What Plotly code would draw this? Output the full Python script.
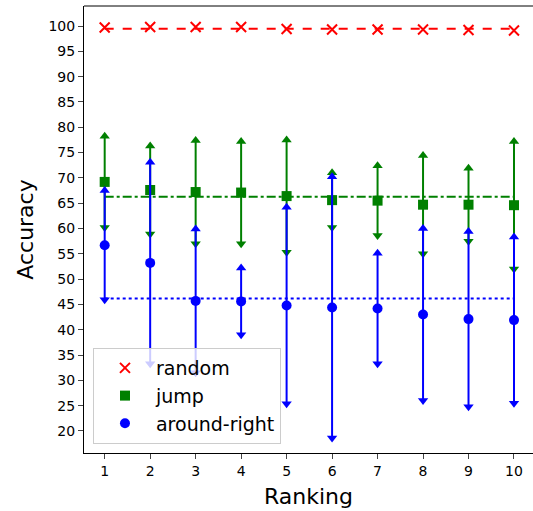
import numpy as np
import plotly.graph_objects as go

ranks = [1, 2, 3, 4, 5, 6, 7, 8, 9, 10]
x_ticks = [1, 2, 3, 4, 5, 6, 7, 8, 9, 10]
y_ticks = [20, 25, 30, 35, 40, 45, 50, 55, 60, 65, 70, 75, 80, 85, 90, 95, 100]

random_acc = [99.7, 99.8, 99.8, 99.8, 99.4, 99.3, 99.3, 99.3, 99.2, 99.1]
jump_acc = [69.2, 67.6, 67.2, 67.1, 66.4, 65.6, 65.5, 64.7, 64.7, 64.6]
jump_std = [9.0, 8.7, 10.2, 10.1, 11.1, 5.4, 6.9, 9.7, 7.2, 12.6]
around_acc = [56.7, 53.2, 45.7, 45.6, 44.8, 44.4, 44.2, 43.0, 42.1, 41.9]
around_std = [10.8, 19.9, 14.2, 6.6, 19.4, 25.8, 10.9, 17.0, 17.3, 16.4]

fig = go.Figure()

def add_series(name, y, std, color, symbol, mean_dash):
    y = np.array(y, dtype=float)
    if std is not None:
        std = np.array(std, dtype=float)
        fig.add_trace(go.Scatter(
            x=ranks, y=y, mode="markers", showlegend=False, hoverinfo="skip",
            legendgroup=name,
            marker=dict(size=1, color="rgba(0,0,0,0)"),
            error_y=dict(type="data", array=std, visible=True, width=0,
                         thickness=2, color=color)))
        fig.add_trace(go.Scatter(
            x=ranks, y=y + std, mode="markers", showlegend=False, legendgroup=name,
            marker=dict(symbol="triangle-up", size=9, color=color, line=dict(width=0))))
        fig.add_trace(go.Scatter(
            x=ranks, y=y - std, mode="markers", showlegend=False, legendgroup=name,
            marker=dict(symbol="triangle-down", size=9, color=color, line=dict(width=0))))
    if symbol == "x-thin":
        mk = dict(symbol="x-thin", size=10, color=color, line=dict(width=2, color=color))
    else:
        mk = dict(symbol=symbol, size=10, color=color, line=dict(width=0))
    fig.add_trace(go.Scatter(x=ranks, y=y, mode="markers", name=name, marker=mk,
                             legendgroup=name))
    m = float(np.mean(y))
    fig.add_trace(go.Scatter(
        x=[ranks[0], ranks[-1]], y=[m, m], mode="lines", showlegend=False,
        legendgroup=name,
        line=dict(color=color, width=2, dash=mean_dash), hoverinfo="skip"))

add_series("random", random_acc, None, "#ff0000", "x-thin", "dash")
add_series("jump", jump_acc, jump_std, "#008000", "square", "dashdot")
add_series("around-right", around_acc, around_std, "#0000ff", "circle", "dot")

fig.add_shape(type="line", xref="paper", yref="paper", x0=0, x1=1, y0=1, y1=1,
              line=dict(color="black", width=1))

fig.update_layout(
    width=533, height=511,
    margin=dict(l=84, r=0, t=6, b=58),
    paper_bgcolor="white", plot_bgcolor="white",
    font=dict(family="DejaVu Sans", color="black"),
    showlegend=True,
    legend=dict(x=0.02, y=0.02, xanchor="left", yanchor="bottom",
                bgcolor="rgba(255,255,255,0.8)", bordercolor="#cccccc", borderwidth=1,
                font=dict(size=19), tracegroupgap=0, itemwidth=52,
                traceorder="grouped"),
    xaxis=dict(range=[0.545, 10.418], tickvals=x_ticks, ticks="outside", ticklen=5,
               tickwidth=1, tickfont=dict(size=14), showgrid=False, zeroline=False,
               showline=True, linecolor="black", linewidth=1,
               title=dict(text="Ranking", font=dict(size=22), standoff=10)),
    yaxis=dict(range=[15.65, 103.95], tickvals=y_ticks, ticks="outside", ticklen=5,
               tickwidth=1, tickfont=dict(size=14), showgrid=False, zeroline=False,
               showline=True, linecolor="black", linewidth=1,
               title=dict(text="Accuracy", font=dict(size=22), standoff=8)),
)

fig.write_html("out.html", config={"displayModeBar": False},
               post_script="document.body.style.margin='0';document.body.style.overflow='hidden';")
